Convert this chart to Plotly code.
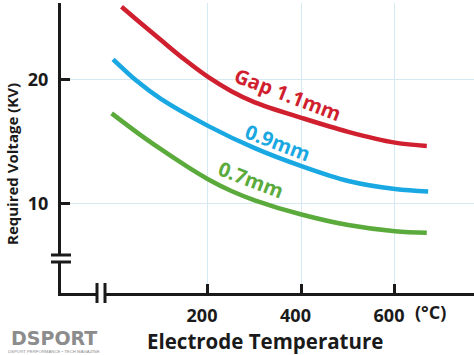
import plotly.graph_objects as go

# ---- data ----
red_x = [15, 50, 100, 150, 200, 250, 300, 400, 500, 600, 668]
red_y = [25.9, 24.78, 23.2, 21.65, 20.25, 19.1, 18.2, 16.95, 15.82, 14.95, 14.68]

blue_x = [-3, 50, 100, 200, 300, 400, 500, 600, 671]
blue_y = [21.67, 19.85, 18.45, 16.3, 14.5, 13.05, 11.85, 11.2, 11.0]

green_x = [-6, 50, 100, 150, 200, 250, 300, 400, 500, 600, 668]
green_y = [17.31, 15.72, 14.4, 13.15, 12.0, 11.05, 10.3, 9.15, 8.3, 7.8, 7.68]

x_tickvals = [200, 400, 600]
x_ticktext = ["200", "400", "600"]
y_tickvals = [10, 20]
y_ticktext = ["10", "20"]

series_names = ["Gap 1.1mm", "0.9mm", "0.7mm"]
colors = ["#D01F2E", "#19A8E2", "#5BAA3C"]

FONT = "Open Sans"
INK = "#1a1a1a"

fig = go.Figure()
for xs, ys, name, c in zip([red_x, blue_x, green_x], [red_y, blue_y, green_y], series_names, colors):
    fig.add_trace(go.Scatter(x=xs, y=ys, mode="lines", name=name,
                             line=dict(color=c, width=4.5, shape="spline", smoothing=1.0),
                             showlegend=False, hoverinfo="skip"))

# curve labels
label_pos = [(371, 18.87, 21), (349, 14.95, 21), (291, 11.94, 21)]
for (lx, ly, ang), name, c in zip(label_pos, series_names, colors):
    fig.add_annotation(x=lx, y=ly, xref="x", yref="y", text=name, showarrow=False,
                       textangle=ang, font=dict(family=FONT, size=20, color=c, weight=700))

W, H = 474, 355
L, R, T, B = 61, 0, 3, 62
pw, ph = W - L - R, H - T - B

def px(xp):
    return (xp - L) / pw

def py(yp):
    return (H - B - yp) / ph

fig.update_layout(
    width=W, height=H,
    margin=dict(l=L, r=R, t=T, b=B),
    paper_bgcolor="white", plot_bgcolor="white",
    font=dict(family=FONT, color=INK),
    xaxis=dict(range=[-114.4, 769], tickvals=x_tickvals, ticktext=x_ticktext,
               showline=True, linecolor=INK, linewidth=3,
               ticks="inside", ticklen=9, tickwidth=3, tickcolor=INK,
               showgrid=True, gridcolor="#D5E9F3", gridwidth=1, zeroline=False,
               tickfont=dict(family=FONT, size=18, color=INK, weight=700),
               ticklabelstandoff=4, ticklabelshift=-6, fixedrange=True),
    yaxis=dict(range=[2.82, 26.21], tickvals=y_tickvals, ticktext=y_ticktext,
               showline=True, linecolor=INK, linewidth=3,
               ticks="inside", ticklen=9, tickwidth=3, tickcolor=INK,
               showgrid=True, gridcolor="#D5E9F3", gridwidth=1, zeroline=False,
               tickfont=dict(family=FONT, size=18, color=INK, weight=700),
               ticklabelstandoff=6, fixedrange=True),
)

# axis titles
fig.add_annotation(x=px(265), y=py(341), xref="paper", yref="paper", text="Electrode Temperature",
                   showarrow=False, xanchor="center", yanchor="middle",
                   font=dict(family=FONT, size=20.5, color=INK, weight=700))
fig.add_annotation(x=px(12), y=py(164), xref="paper", yref="paper", text="Required Voltage (KV)",
                   showarrow=False, textangle=-90, xanchor="center", yanchor="middle",
                   font=dict(family=FONT, size=15, color=INK, weight=700))
fig.add_annotation(x=px(430.5), y=py(311.5), xref="paper", yref="paper", text="(°C)",
                   showarrow=False, xanchor="center", yanchor="middle",
                   font=dict(family=FONT, size=18, color=INK, weight=700))

# logo
fig.add_annotation(x=px(53.5), y=py(337.5), xref="paper", yref="paper", text="DSPORT",
                   showarrow=False, xanchor="center", yanchor="middle", borderpad=0,
                   font=dict(family="DejaVu Sans", size=19, color="#8C8C8C", weight=700))
fig.add_annotation(x=px(53.5), y=py(351), xref="paper", yref="paper",
                   text="DSPORT PERFORMANCE • TECH MAGAZINE",
                   showarrow=False, xanchor="center", yanchor="middle", borderpad=0,
                   font=dict(family="Liberation Sans", size=4.3, color="#8C8C8C"))

# axis break marks
shapes = []
shapes.append(dict(type="rect", xref="paper", yref="paper", x0=px(57), x1=px(65), y0=py(261), y1=py(256),
                   fillcolor="white", line=dict(width=0), layer="above"))
for yy in (255, 262):
    shapes.append(dict(type="line", xref="paper", yref="paper", x0=px(51), x1=px(71), y0=py(yy), y1=py(yy),
                       line=dict(color=INK, width=3), layer="above"))
shapes.append(dict(type="rect", xref="paper", yref="paper", x0=px(98), x1=px(104), y0=py(297), y1=py(289),
                   fillcolor="white", line=dict(width=0), layer="above"))
for xx in (97, 105):
    shapes.append(dict(type="line", xref="paper", yref="paper", x0=px(xx), x1=px(xx), y0=py(283), y1=py(303),
                       line=dict(color=INK, width=3), layer="above"))
fig.update_layout(shapes=shapes)

fig.write_html("out.html", config={"displayModeBar": False},
               post_script="document.body.style.margin='0';document.body.style.overflow='hidden';")
